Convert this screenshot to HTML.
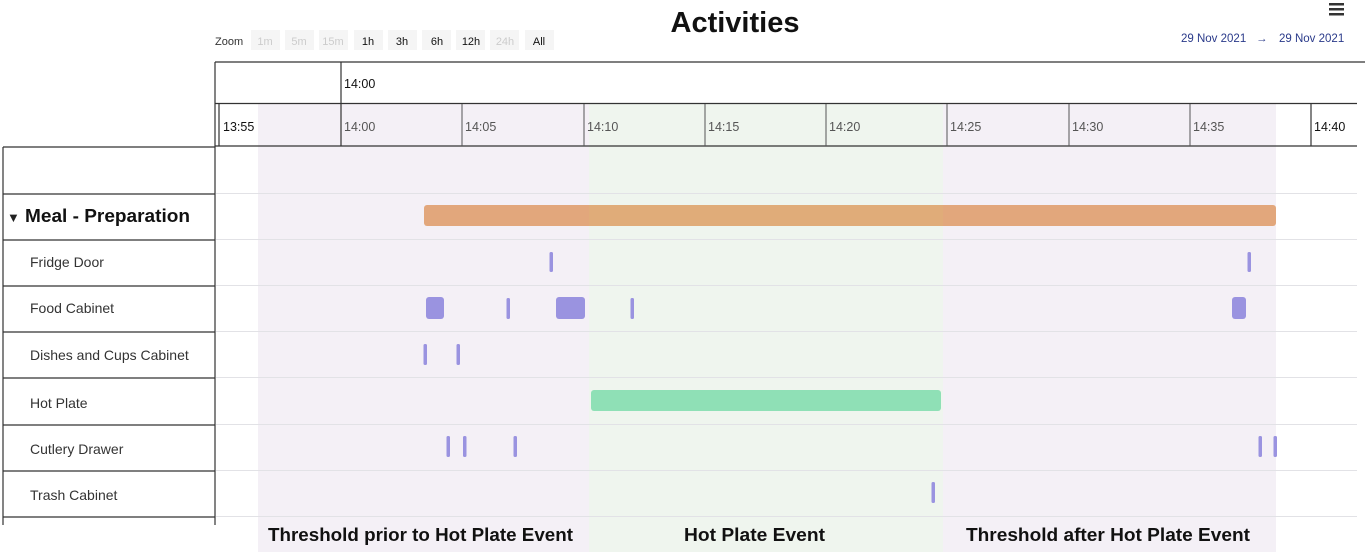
<!DOCTYPE html>
<html><head><meta charset="utf-8"><style>
html,body{margin:0;padding:0;background:#fff;}
svg{display:block;font-family:"Liberation Sans",sans-serif;}
</style></head><body>
<svg width="1367" height="555" viewBox="0 0 1367 555" xmlns="http://www.w3.org/2000/svg">
<rect x="258" y="104" width="331" height="448" fill="#f4f0f6"/>
<rect x="589" y="104" width="354" height="448" fill="#eff5ee"/>
<rect x="943" y="104" width="333" height="448" fill="#f4f0f6"/>
<g stroke="#e2e2e6" stroke-width="1">
<line x1="216" y1="193.5" x2="1357" y2="193.5"/>
<line x1="216" y1="239.5" x2="1357" y2="239.5"/>
<line x1="216" y1="285.5" x2="1357" y2="285.5"/>
<line x1="216" y1="331.5" x2="1357" y2="331.5"/>
<line x1="216" y1="377.5" x2="1357" y2="377.5"/>
<line x1="216" y1="424.5" x2="1357" y2="424.5"/>
<line x1="216" y1="470.5" x2="1357" y2="470.5"/>
<line x1="216" y1="516.5" x2="1357" y2="516.5"/>
</g>
<text x="735" y="32" text-anchor="middle" font-size="29" font-weight="bold" fill="#111">Activities</text>
<g fill="#333"><rect x="1329" y="3" width="15" height="2.5"/><rect x="1329" y="8" width="15" height="2.5"/><rect x="1329" y="13" width="15" height="2.5"/></g>
<text x="1181" y="42" font-size="11.5" fill="#2a3a8a">29 Nov 2021</text>
<text x="1256" y="42" font-size="11.5" fill="#2a3a8a">→</text>
<text x="1279" y="42" font-size="11.5" fill="#2a3a8a">29 Nov 2021</text>
<text x="215" y="45" font-size="11" fill="#333">Zoom</text>
<g font-size="11">
<rect x="251" y="30" width="29" height="20" fill="#f5f5f5"/><text x="265" y="45" text-anchor="middle" fill="#ccc">1m</text>
<rect x="285" y="30" width="29" height="20" fill="#f5f5f5"/><text x="299" y="45" text-anchor="middle" fill="#ccc">5m</text>
<rect x="319" y="30" width="29" height="20" fill="#f5f5f5"/><text x="333" y="45" text-anchor="middle" fill="#ccc">15m</text>
<rect x="354" y="30" width="29" height="20" fill="#f5f5f5"/><text x="368" y="45" text-anchor="middle" fill="#111">1h</text>
<rect x="388" y="30" width="29" height="20" fill="#f5f5f5"/><text x="402" y="45" text-anchor="middle" fill="#111">3h</text>
<rect x="422" y="30" width="29" height="20" fill="#f5f5f5"/><text x="437" y="45" text-anchor="middle" fill="#111">6h</text>
<rect x="456" y="30" width="29" height="20" fill="#f5f5f5"/><text x="471" y="45" text-anchor="middle" fill="#111">12h</text>
<rect x="490" y="30" width="29" height="20" fill="#f5f5f5"/><text x="505" y="45" text-anchor="middle" fill="#ccc">24h</text>
<rect x="525" y="30" width="29" height="20" fill="#f5f5f5"/><text x="539" y="45" text-anchor="middle" fill="#111">All</text>
</g>
<g stroke="#333" stroke-width="1.2" fill="none">
<line x1="215" y1="62" x2="1365" y2="62"/>
<line x1="215" y1="62" x2="215" y2="147"/>
<line x1="341" y1="62" x2="341" y2="146"/>
<line x1="215" y1="103.5" x2="1357" y2="103.5"/>
<line x1="215" y1="146" x2="1357" y2="146"/>
<line x1="219" y1="104" x2="219" y2="146"/>
<line x1="1311" y1="104" x2="1311" y2="146"/>
</g>
<g stroke="#555" stroke-width="1">
<line x1="462" y1="104" x2="462" y2="146"/>
<line x1="584" y1="104" x2="584" y2="146"/>
<line x1="705" y1="104" x2="705" y2="146"/>
<line x1="826" y1="104" x2="826" y2="146"/>
<line x1="947" y1="104" x2="947" y2="146"/>
<line x1="1069" y1="104" x2="1069" y2="146"/>
<line x1="1190" y1="104" x2="1190" y2="146"/>
</g>
<text x="344" y="88" font-size="12.5" fill="#111">14:00</text>
<g font-size="12.5" fill="#555">
<text x="223" y="131" fill="#111">13:55</text>
<text x="344" y="131">14:00</text>
<text x="465" y="131">14:05</text>
<text x="587" y="131">14:10</text>
<text x="708" y="131">14:15</text>
<text x="829" y="131">14:20</text>
<text x="950" y="131">14:25</text>
<text x="1072" y="131">14:30</text>
<text x="1193" y="131">14:35</text>
<text x="1314" y="131" fill="#111">14:40</text>
</g>
<g stroke="#333" stroke-width="1.2" fill="none">
<line x1="3" y1="147" x2="215" y2="147"/>
<line x1="3" y1="147" x2="3" y2="525"/>
<line x1="215" y1="147" x2="215" y2="525"/>
<line x1="3" y1="194" x2="215" y2="194"/>
<line x1="3" y1="240" x2="215" y2="240"/>
<line x1="3" y1="286" x2="215" y2="286"/>
<line x1="3" y1="332" x2="215" y2="332"/>
<line x1="3" y1="378" x2="215" y2="378"/>
<line x1="3" y1="425" x2="215" y2="425"/>
<line x1="3" y1="471" x2="215" y2="471"/>
<line x1="3" y1="517" x2="215" y2="517"/>
</g>
<text x="7" y="222" font-size="13" fill="#222">▼</text>
<text x="25" y="222" font-size="18" font-weight="bold" fill="#111" textLength="165" lengthAdjust="spacingAndGlyphs">Meal - Preparation</text>
<g font-size="14" fill="#333">
<text x="30" y="267">Fridge Door</text>
<text x="30" y="313">Food Cabinet</text>
<text x="30" y="360">Dishes and Cups Cabinet</text>
<text x="30" y="408">Hot Plate</text>
<text x="30" y="454">Cutlery Drawer</text>
<text x="30" y="500">Trash Cabinet</text>
</g>
<rect x="424" y="205" width="852" height="21" rx="3" fill="#e2a77c"/>
<rect x="589" y="205" width="354" height="21" fill="#dfaf78" opacity="0.6"/>
<rect x="591" y="390" width="350" height="21" rx="3" fill="#8fe0b6"/>
<g fill="#9a93e0">
<rect x="549.5" y="252" width="3.5" height="20" rx="1.5"/>
<rect x="1247.5" y="252" width="3.5" height="20" rx="1.5"/>
<rect x="426" y="297" width="18" height="22" rx="3"/>
<rect x="506.5" y="298" width="3.5" height="21" rx="1.5"/>
<rect x="556" y="297" width="29" height="22" rx="3"/>
<rect x="630.5" y="298" width="3.5" height="21" rx="1.5"/>
<rect x="1232" y="297" width="14" height="22" rx="3"/>
<rect x="423.5" y="344" width="3.5" height="21" rx="1.5"/>
<rect x="456.5" y="344" width="3.5" height="21" rx="1.5"/>
<rect x="446.5" y="436" width="3.5" height="21" rx="1.5"/>
<rect x="463" y="436" width="3.5" height="21" rx="1.5"/>
<rect x="513.5" y="436" width="3.5" height="21" rx="1.5"/>
<rect x="1258.5" y="436" width="3.5" height="21" rx="1.5"/>
<rect x="1273.5" y="436" width="3.5" height="21" rx="1.5"/>
<rect x="931.5" y="482" width="3.5" height="21" rx="1.5"/>
</g>
<g font-size="18" font-weight="bold" fill="#111">
<text x="268" y="541" textLength="305" lengthAdjust="spacingAndGlyphs">Threshold prior to Hot Plate Event</text>
<text x="684" y="541" textLength="141" lengthAdjust="spacingAndGlyphs">Hot Plate Event</text>
<text x="966" y="541" textLength="284" lengthAdjust="spacingAndGlyphs">Threshold after Hot Plate Event</text>
</g>
</svg>
</body></html>
